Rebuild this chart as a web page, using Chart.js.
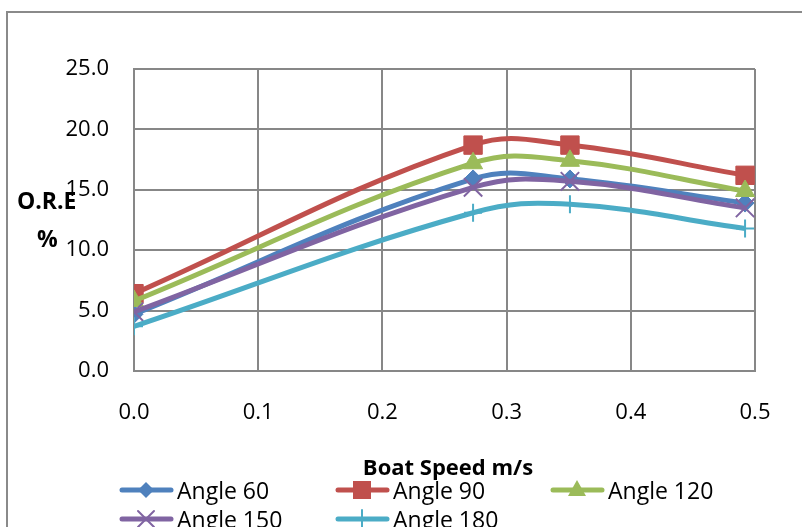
<!DOCTYPE html>
<html>
<head>
<meta charset="utf-8">
<script src="https://cdn.jsdelivr.net/npm/chart.js"></script>
<style>
  body { margin: 0; background: #fff; overflow: hidden; }
  #wrap { position: relative; width: 802px; height: 527px; }
  #frame { position: absolute; left: 6px; top: 11px; width: 900px; height: 600px; border: 2px solid #8a8a8a; box-sizing: border-box; }
  canvas { position: absolute; left: 0; top: 0; }
  .txt { position: absolute; font-family: "Open Sans", sans-serif; color: #000; white-space: nowrap; }
  .bold { font-weight: bold; }
  .item { position: absolute; height: 30px; display: flex; align-items: center; font-family: "Open Sans", sans-serif; font-size: 23px; }
  .item canvas { position: static; margin-right: 3px; }
</style>
</head>
<body>
<div id="wrap">
  <div id="frame"></div>
  <canvas id="myChart" width="802" height="527"></canvas>
  <div class="txt bold" style="left:17px;top:184px;font-size:23px;">O.R.E</div>
  <div class="txt bold" style="left:37px;top:222px;font-size:23px;">%</div>
  <div class="txt bold" style="left:0;width:896px;top:451px;font-size:22px;text-align:center;">Boat Speed m/s</div>
  <div id="legend"></div>
</div>
<script>
// Data
const speeds = [0.0, 0.273, 0.351, 0.492];
const angle60 = [4.7, 15.9, 15.9, 13.9];
const angle90 = [6.4, 18.7, 18.7, 16.2];
const angle120 = [5.8, 17.2, 17.4, 14.9];
const angle150 = [4.9, 15.2, 15.7, 13.5];
const angle180 = [3.7, 13.1, 13.8, 11.8];
const xTicks = [0.0, 0.1, 0.2, 0.3, 0.4, 0.5];
const yTicks = [0, 5, 10, 15, 20, 25];

const series = [
  { label: "Angle 60", values: angle60, color: "#4F81BD", style: "rectRot", radius: 9 },
  { label: "Angle 90", values: angle90, color: "#C0504D", style: "rect", radius: 13 },
  { label: "Angle 120", values: angle120, color: "#9BBB59", style: "triangle", radius: 11 },
  { label: "Angle 150", values: angle150, color: "#8064A2", style: "crossRot", radius: 13 },
  { label: "Angle 180", values: angle180, color: "#4BACC6", style: "cross", radius: 9 }
];

const grid = "#878787";

const datasets = series.map((s, i) => ({
  label: s.label,
  data: speeds.map((x, j) => ({ x: x, y: s.values[j] })),
  borderColor: s.color,
  backgroundColor: s.color,
  borderWidth: 5,
  tension: 0.4,
  pointStyle: s.style,
  pointRadius: s.radius,
  pointBorderWidth: (s.style == "cross" || s.style == "crossRot") ? 2 : 1,
  pointBackgroundColor: s.color,
  pointBorderColor: s.color,
  order: series.length - i
}));

const ctx = document.getElementById('myChart');

new Chart(ctx, {
  type: 'line',
  data: { datasets: datasets },
  options: {
    responsive: false,
    animation: false,
    layout: { padding: { top: 69, right: 47, bottom: 0, left: 0 } },
    plugins: { legend: { display: false }, tooltip: { enabled: false } },
    scales: {
      x: {
        type: 'linear',
        min: 0,
        max: 0.5,
        afterFit: a => { a.height = 156; },
        afterBuildTicks: a => { a.ticks = xTicks.map(v => ({ value: v })); },
        grid: { color: grid, lineWidth: 2, drawTicks: false },
        border: { color: grid, width: 2 },
        ticks: {
          padding: 29,
          color: "#000",
          font: { family: "Open Sans", size: 22 },
          callback: v => v.toFixed(1)
        }
      },
      y: {
        min: 0,
        max: 25,
        afterFit: a => { a.width = 134; },
        afterBuildTicks: a => { a.ticks = yTicks.map(v => ({ value: v })); },
        grid: { color: grid, lineWidth: 2, drawTicks: false },
        border: { color: grid, width: 2 },
        ticks: {
          padding: 25,
          color: "#000",
          font: { family: "Open Sans", size: 22 },
          callback: v => v.toFixed(1)
        }
      }
    }
  }
});

// Legend (line + marker, Excel style)
const legend = document.getElementById("legend");
const cols = [119, 335, 550];
const rows = [475, 504];

function marker(c, s) {
  const g = c.getContext("2d");
  const cy = 15, cx = 27;
  g.strokeStyle = s.color;
  g.fillStyle = s.color;
  g.lineWidth = 5;
  g.lineCap = "round";
  g.beginPath(); g.moveTo(3, cy); g.lineTo(52, cy); g.stroke();
  g.lineWidth = 2;
  g.beginPath();
  if (s.style == "rect") {
    g.fillRect(cx - 9, cy - 9, 18, 18);
  } else if (s.style == "rectRot") {
    g.moveTo(cx, cy - 8); g.lineTo(cx + 8, cy); g.lineTo(cx, cy + 8); g.lineTo(cx - 8, cy); g.closePath(); g.fill();
  } else if (s.style == "triangle") {
    g.moveTo(cx, cy - 10); g.lineTo(cx + 9, cy + 6); g.lineTo(cx - 9, cy + 6); g.closePath(); g.fill();
  } else if (s.style == "crossRot") {
    g.moveTo(cx - 8, cy - 8); g.lineTo(cx + 8, cy + 8); g.moveTo(cx + 8, cy - 8); g.lineTo(cx - 8, cy + 8); g.stroke();
  } else {
    g.moveTo(cx, cy - 9); g.lineTo(cx, cy + 9); g.stroke();
  }
}

series.forEach((s, i) => {
  const div = document.createElement("div");
  div.className = "item";
  div.style.left = cols[i % 3] + "px";
  div.style.top = rows[Math.floor(i / 3)] + "px";
  const c = document.createElement("canvas");
  c.width = 55; c.height = 30;
  marker(c, s);
  div.appendChild(c);
  const span = document.createElement("span");
  span.innerText = s.label;
  div.appendChild(span);
  legend.appendChild(div);
});
</script>
</body>
</html>
